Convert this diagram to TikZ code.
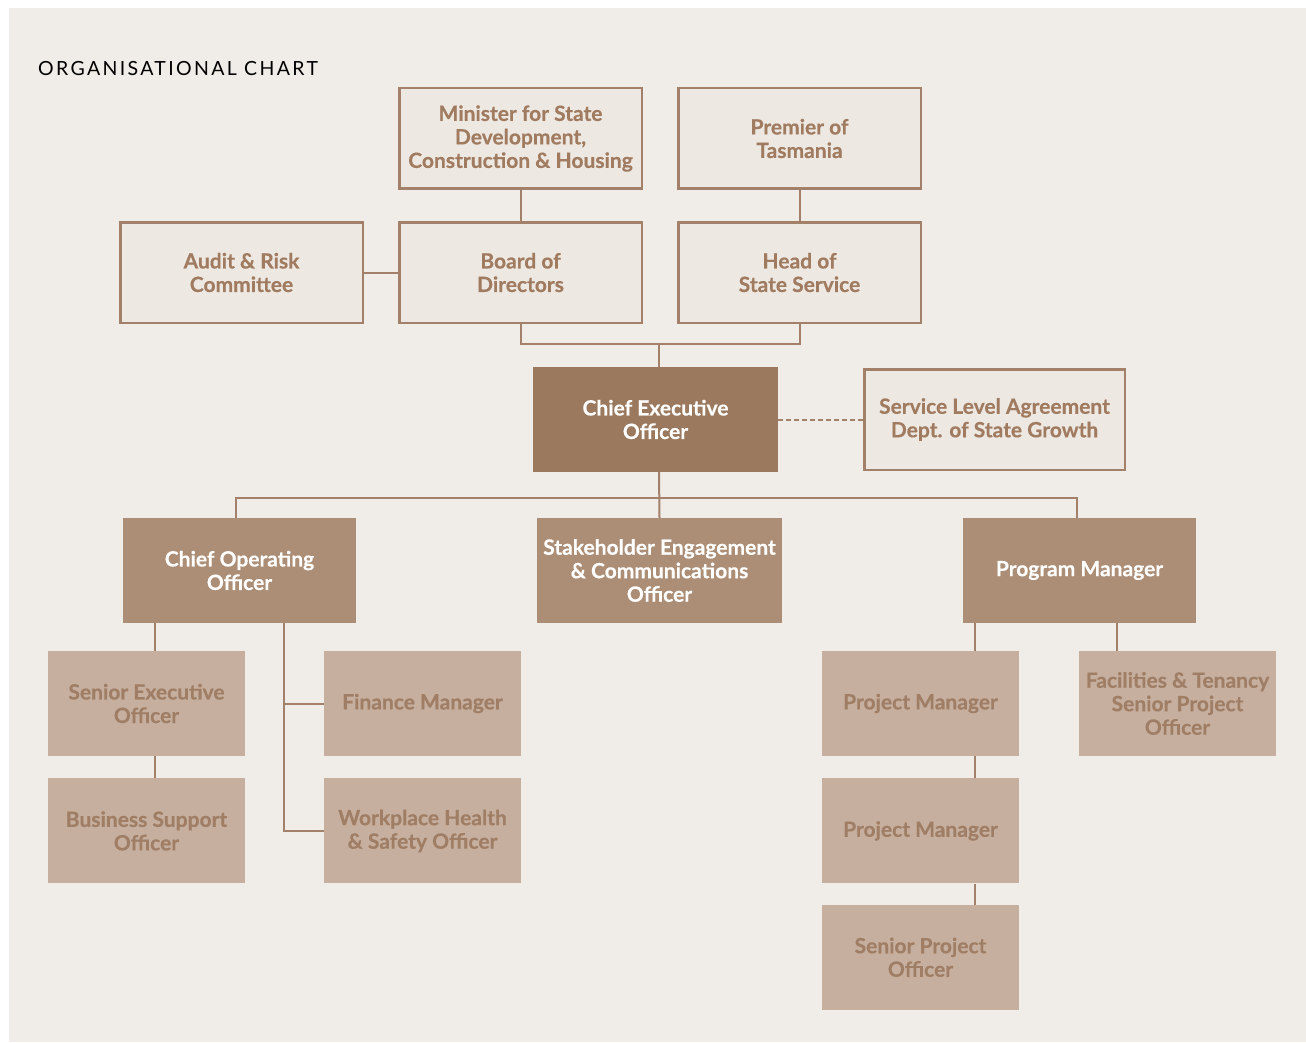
\documentclass[tikz,border=0pt]{standalone}
\usepackage{fontspec}
\setmainfont{Lato}[BoldFeatures={FakeBold=0.4}]
\newfontfamily\titlefont[LetterSpace=12]{Lato}
\usepackage{tikz}
\usetikzlibrary{positioning, calc}

\definecolor{bgcol}{HTML}{F0ECE7}
\definecolor{boxcol}{HTML}{EEE8E2}
\definecolor{linecol}{HTML}{A3806A}
\definecolor{ceocol}{HTML}{9B795E}
\definecolor{midcol}{HTML}{AC8D75}
\definecolor{lowcol}{HTML}{C6AF9E}
\definecolor{txtcol}{HTML}{A07B60}
\definecolor{lowtxt}{HTML}{9F7E65}

\tikzset{
  outer/.style={draw=linecol, line width=2.5pt, fill=boxcol, minimum width=242.5pt, minimum height=100.5pt,
    align=center, inner sep=0pt, text=txtcol, font=\fontsize{21}{23.5}\selectfont\bfseries},
  head/.style={fill=ceocol, minimum width=245pt, minimum height=105pt,
    align=center, inner sep=0pt, text=white, font=\fontsize{21}{23.5}\selectfont\bfseries},
  unit/.style={head, fill=midcol, minimum width=233pt},
  staff/.style={fill=lowcol, minimum width=197pt, minimum height=105pt,
    align=center, inner sep=0pt, text=lowtxt, font=\fontsize{21}{23.5}\selectfont\bfseries},
  link/.style={draw=linecol, line width=2pt},
}

\begin{document}
\begin{tikzpicture}[x=1pt, y=-1pt]
            \useasboundingbox (0,0) rectangle (1306,1043);
            \fill[white] (0,0) rectangle (1306,1043);
            \fill[bgcol] (9,8) rectangle (1306,1042);
            \node[anchor=base west, inner sep=0pt, font=\titlefont\fontsize{19.5}{23}\selectfont] (title) at (38,76) {ORGANISATIONAL CHART};
            % governance
            \node[outer] (min) at (520.5,138.5) {Minister for State\\Development,\\Construction \& Housing};
            \node[outer] (prem) at (799.5,138.5) {Premier of\\Tasmania};
            \node[outer, below=31pt of min] (board) {Board of\\Directors};
            \node[outer, below=31pt of prem] (hos) {Head of\\State Service};
            \node[outer, left=34pt of board] (audit) {Audit \& Risk\\Committee};
            \node[head] (ceo) at (655.5,419.5) {Chief Executive\\Officer};
            \node[outer, minimum width=260.5pt] (sla) at (994.5,419.5) {Service Level Agreement\\Dept. of State Growth};
            % second level
            \node[unit] (coo) at (239.5,570.5) {Chief Operating\\Officer};
            \node[head, fill=midcol] (sec) at (659.5,570.5) {Stakeholder Engagement\\\& Communications\\Officer};
            \node[unit] (pgm) at (1079.5,570.5) {Program Manager};
            % staff
            \node[staff] (seo) at (146.5,703.5) {Senior Executive\\Officer};
            \node[staff, below=22pt of seo] (bso) {Business Support\\Officer};
            \node[staff] (fin) at (422.5,703.5) {Finance Manager};
            \node[staff, below=22pt of fin] (whs) {Workplace Health\\\& Safety Officer};
            \node[staff] (pm1) at (920.5,703.5) {Project Manager};
            \node[staff, below=22pt of pm1] (pm2) {Project Manager};
            \node[staff, below=21pt of pm2] (spo) {Senior Project\\Officer};
            \node[staff] (fac) at (1177.5,703.5) {Facilities \& Tenancy\\Senior Project\\Officer};
            % links
            \draw[link] (min) -- (board);
            \draw[link] (prem) -- (hos);
            \draw[link] (audit) -- (board);
            \draw[link] (board.south) -- ++(0,20) -| (hos.south);
            \draw[link] ([xshift=3.5pt]ceo.north) -- ++(0,-24);
            \draw[link, dash pattern=on 5pt off 3pt] (ceo) -- (sla);
            \draw[link] ([xshift=3.5pt]ceo.south) -- (sec.north);
            \draw[link] ([xshift=-3.5pt]coo.north) -- ++(0,-20) -| ([xshift=-2.5pt]pgm.north);
            \draw[link] ([xshift=8.5pt]seo.north) -- ([xshift=8.5pt]seo.north |- coo.south);
            \draw[link] ([xshift=8.5pt]seo.south) -- ([xshift=8.5pt]bso.north);
            \draw[link] (coo.south -| {(284,0)}) |- (whs.west);
            \draw[link] (fin.west) -- (fin.west -| {(284,0)});
            \draw[link] ([xshift=54.5pt]pm1.north) -- ([xshift=54.5pt]pm1.north |- pgm.south);
            \draw[link] ([xshift=54.5pt]pm1.south) -- ([xshift=54.5pt]pm2.north);
            \draw[link] ([xshift=54.5pt]pm2.south) -- ([xshift=54.5pt]spo.north);
            \draw[link] ([xshift=-60.5pt]fac.north) -- ([xshift=-60.5pt]fac.north |- pgm.south);
        \end{tikzpicture}
\end{document}
